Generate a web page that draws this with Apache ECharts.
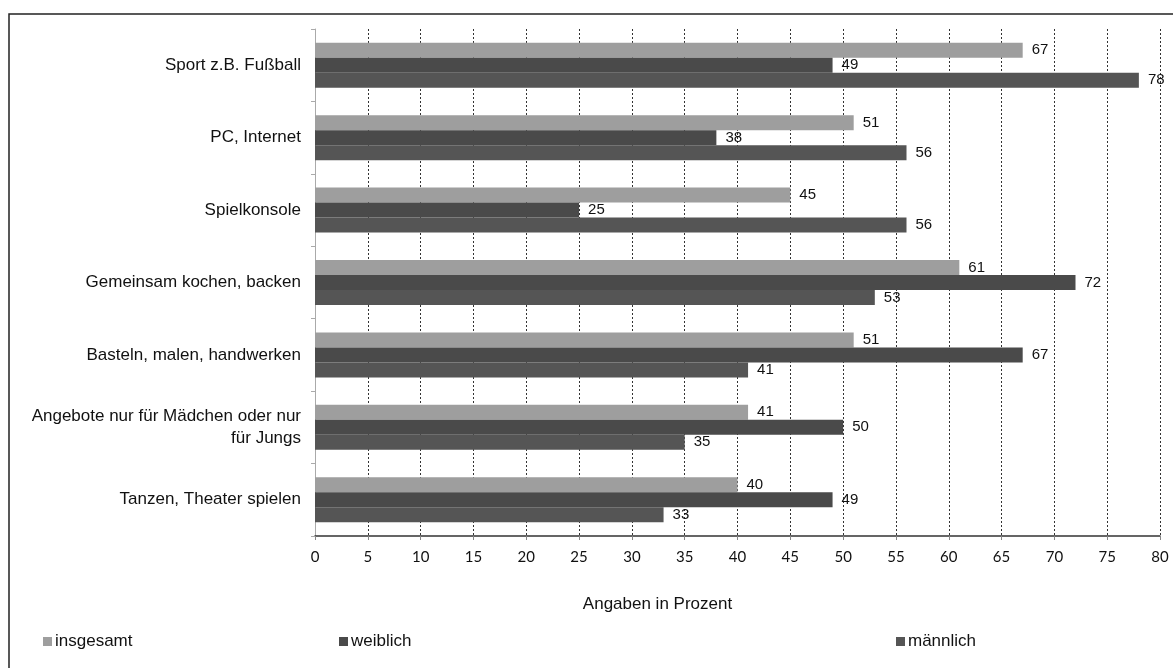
<!DOCTYPE html>
<html lang="de">
<head>
<meta charset="UTF-8">
<title>Angebote</title>
<script src="https://cdn.jsdelivr.net/npm/echarts@6/dist/echarts.min.js"></script>
<style>
    * { margin: 0; padding: 0; }
    body { background: #fff; }
    #chart { width: 1173px; height: 668px; }
</style>
</head>
<body>
<div id="chart"></div>
<script>
    var categories = [
        'Sport z.B. Fußball',
        'PC, Internet',
        'Spielkonsole',
        'Gemeinsam kochen, backen',
        'Basteln, malen, handwerken',
        'Angebote nur für Mädchen oder nur\nfür Jungs',
        'Tanzen, Theater spielen'
    ];
    var insgesamt = [67, 51, 45, 61, 51, 41, 40];
    var weiblich = [49, 38, 25, 72, 67, 50, 49];
    var maennlich = [78, 56, 56, 53, 41, 35, 33];

    var chart = echarts.init(document.getElementById('chart'));
    var font = 'Liberation Sans, Arial, sans-serif';

    function bar(name, data, color) {
        return {
            name: name,
            type: 'bar',
            data: data,
            barWidth: 15,
            barGap: '0%',
            itemStyle: { color: color },
            label: {
                show: true,
                position: 'right',
                distance: 9,
                color: '#111',
                fontSize: 15,
                fontFamily: font
            }
        };
    }

    function legend(name, left) {
        return {
            data: [name],
            left: left,
            top: 628,
            itemWidth: 9,
            itemHeight: 9,
            itemGap: 2,
            icon: 'rect',
            textStyle: { fontSize: 17, fontFamily: font, color: '#111', padding: [0, 0, 0, -2] }
        };
    }

    chart.setOption({
        animation: false,
        backgroundColor: '#fff',
        textStyle: { fontFamily: font },
        graphic: [{
            type: 'rect',
            shape: { x: 9, y: 14, width: 1200, height: 700 },
            style: { fill: 'none', stroke: '#222', lineWidth: 1.5 },
            silent: true
        }],
        legend: [
            legend('insgesamt', 38),
            legend('weiblich', 334),
            legend('männlich', 891)
        ],
        grid: { left: 315, right: 13, top: 29, bottom: 132 },
        xAxis: {
            type: 'value',
            min: 0,
            max: 80,
            interval: 5,
            name: 'Angaben in Prozent',
            nameLocation: 'middle',
            nameGap: 60,
            nameTextStyle: { fontSize: 17, color: '#111', padding: [0, 160, 0, 0] },
            axisLine: { show: true, lineStyle: { color: '#333', width: 1.5 } },
            axisTick: { show: true, length: 4, lineStyle: { color: '#888' } },
            axisLabel: { fontSize: 15, color: '#111', margin: 14, fontFamily: 'Lato, Open Sans, sans-serif' },
            splitLine: { show: true, lineStyle: { color: '#333', type: [2, 2], width: 1 } }
        },
        yAxis: {
            type: 'category',
            data: categories,
            inverse: true,
            axisLine: { show: true, lineStyle: { color: '#aaa' } },
            axisTick: { show: true, length: 4, lineStyle: { color: '#aaa' } },
            axisLabel: { fontSize: 17, color: '#111', margin: 14, lineHeight: 22 }
        },
        series: [
            bar('insgesamt', insgesamt, '#9e9e9e'),
            bar('weiblich', weiblich, '#4a4a4a'),
            bar('männlich', maennlich, '#555555')
        ]
    });
</script>
</body>
</html>
